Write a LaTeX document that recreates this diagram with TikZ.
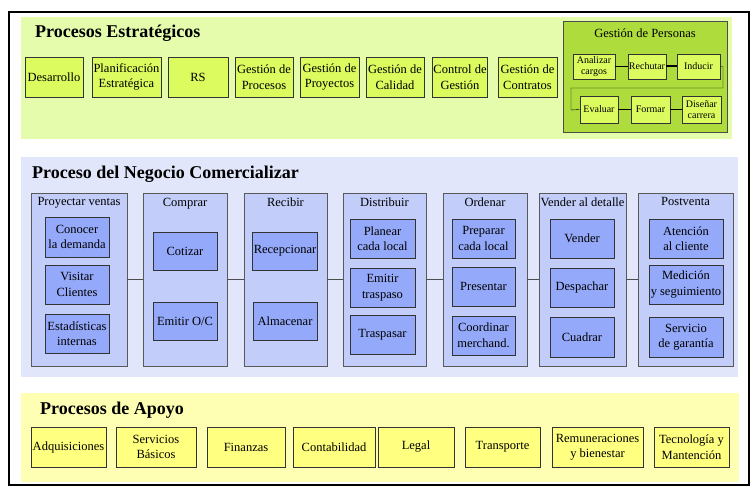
\documentclass[tikz,border=0pt]{standalone}
\usepackage{fontspec}
\setmainfont{Liberation Serif}
\usetikzlibrary{positioning}

\definecolor{estrafondo}{HTML}{E4FCAC}
\definecolor{estracaja}{HTML}{DCFB5E}
\definecolor{personas}{HTML}{AEDC3C}
\definecolor{negfondo}{HTML}{E1E6FB}
\definecolor{negcol}{HTML}{C3CDFA}
\definecolor{negcaja}{HTML}{94A9F9}
\definecolor{apofondo}{HTML}{FFFFB3}
\definecolor{apocaja}{HTML}{FFFF80}

\begin{document}
\begin{tikzpicture}[x=1pt,y=-1pt,
  caja/.style={draw=black!80,line width=0.8pt,align=center,inner sep=1pt,
    font=\fontsize{12.5}{15.5}\selectfont},
  cajita/.style={caja,fill=estracaja,font=\fontsize{10}{11}\selectfont},
  columna/.style={draw=black!65,line width=0.8pt,fill=negcol,minimum height=173},
  coltit/.style={inner sep=0pt,font=\fontsize{12.5}{14}\selectfont},
  titulo/.style={anchor=west,inner sep=0pt,font=\fontsize{18}{20}\selectfont\bfseries}]
\useasboundingbox (0,0) rectangle (756,494);

% marco y fondos
\draw[line width=1.2pt] (9,12) rectangle (749,485);
\fill[estrafondo] (21,17) rectangle (732,139);
\fill[negfondo] (21,157) rectangle (738,377);
\fill[apofondo] (21,393) rectangle (739,482);

% procesos estrategicos
\node[titulo] (tEstra) at (35,33) {Procesos Estratégicos};
\node[caja,fill=estracaja,minimum width=58,minimum height=40] (des) at (54,77) {Desarrollo};
\node[caja,fill=estracaja,minimum width=69,minimum height=40] (plan) at (126.5,77) {Planificación\\Estratégica};
\node[caja,fill=estracaja,minimum width=60,minimum height=40] (rs) at (198,77) {RS};
\node[caja,fill=estracaja,minimum width=58,minimum height=40] (gpro) at (264,77) {Gestión de\\Procesos};
\node[caja,fill=estracaja,minimum width=59,minimum height=40] (gproy) at (329.5,77) {Gestión de\\Proyectos};
\node[caja,fill=estracaja,minimum width=58,minimum height=40] (gcal) at (395,77) {Gestión de\\Calidad};
\node[caja,fill=estracaja,minimum width=54,minimum height=40] (cges) at (460,77) {Control de\\Gestión};
\node[caja,fill=estracaja,minimum width=59,minimum height=40] (gcon) at (527.5,77) {Gestión de\\Contratos};

% gestion de personas
\node[draw=black!70,line width=0.8pt,fill=personas,minimum width=164,minimum height=111] (gper) at (645,76.5) {};
\node[coltit] (tPer) at (645,33) {Gestión de Personas};
\node[cajita,minimum width=42,minimum height=25] (anal) at (594,66.5) {Analizar\\cargos};
\node[cajita,minimum width=38,minimum height=25] (rech) at (647,66.5) {Rechutar};
\node[cajita,minimum width=43,minimum height=25] (ind) at (698.5,66.5) {Inducir};
\node[cajita,minimum width=38,minimum height=27] (eva) at (599,109.5) {Evaluar};
\node[cajita,minimum width=39,minimum height=27] (form) at (650.5,109.5) {Formar};
\node[cajita,minimum width=39,minimum height=27] (dise) at (701.5,109.5) {Diseñar\\carrera};
\coordinate (codoA) at (723,88);
\coordinate (codoB) at (571,110);
\draw (anal) -- (rech);
\draw[line width=2pt] (rech) -- (ind);
\draw (ind.east) -| (codoA) -| (codoB) -- (eva.west);
\draw (eva) -- (form);
\draw (form) -- (dise);

% proceso del negocio
\node[titulo] (tNeg) at (32,174) {Proceso del Negocio Comercializar};
\node[columna,minimum width=96] (pv) at (79,279.5) {};
\node[columna,minimum width=84] (com) at (185,279.5) {};
\node[columna,minimum width=83] (rec) at (285.5,279.5) {};
\node[columna,minimum width=83] (dis) at (384.5,279.5) {};
\node[columna,minimum width=84] (ord) at (485,279.5) {};
\node[columna,minimum width=87] (ven) at (582.5,279.5) {};
\node[columna,minimum width=95] (post) at (685.5,279.5) {};
\node[coltit,below=5pt of pv.north] (tPv) {Proyectar ventas};
\node[coltit,below=5pt of com.north] (tCom) {Comprar};
\node[coltit,below=5pt of rec.north] (tRec) {Recibir};
\node[coltit,below=5pt of dis.north] (tDis) {Distribuir};
\node[coltit,below=5pt of ord.north] (tOrd) {Ordenar};
\node[coltit,below=5pt of ven.north] (tVen) {Vender al detalle};
\node[coltit,below=5pt of post.north] (tPost) {Postventa};
\draw[black!70] (pv) -- (com);
\draw[black!70] (com) -- (rec);
\draw[black!70] (rec) -- (dis);
\draw[black!70] (dis) -- (ord);
\draw[black!70] (ord) -- (ven);
\draw[black!70] (ven) -- (post);

\node[caja,fill=negcaja,minimum width=64,minimum height=40] (conoc) at (77,237) {Conocer\\la demanda};
\node[caja,fill=negcaja,minimum width=64,minimum height=39] (visit) at (77,284.5) {Visitar\\Clientes};
\node[caja,fill=negcaja,minimum width=64,minimum height=39] (estad) at (77,333.5) {Estadísticas\\internas};
\node[caja,fill=negcaja,minimum width=64,minimum height=38] (cotiz) at (185,251) {Cotizar};
\node[caja,fill=negcaja,minimum width=64,minimum height=38] (emioc) at (185,321) {Emitir O/C};
\node[caja,fill=negcaja,minimum width=64,minimum height=38] (recep) at (285,251) {Recepcionar};
\node[caja,fill=negcaja,minimum width=64,minimum height=38] (almac) at (285,321) {Almacenar};
\node[caja,fill=negcaja,minimum width=65,minimum height=39] (plane) at (382.5,238.5) {Planear\\cada local};
\node[caja,fill=negcaja,minimum width=65,minimum height=39] (emitr) at (382.5,287.5) {Emitir\\traspaso};
\node[caja,fill=negcaja,minimum width=65,minimum height=39] (trasp) at (382.5,334.5) {Traspasar};
\node[caja,fill=negcaja,minimum width=63,minimum height=39] (prepa) at (483.5,238.5) {Preparar\\cada local};
\node[caja,fill=negcaja,minimum width=63,minimum height=39] (prese) at (483.5,286.5) {Presentar};
\node[caja,fill=negcaja,minimum width=63,minimum height=39] (coord) at (483.5,335.5) {Coordinar\\merchand.};
\node[caja,fill=negcaja,minimum width=64,minimum height=39] (vende) at (582,238.5) {Vender};
\node[caja,fill=negcaja,minimum width=64,minimum height=39] (despa) at (582,287.5) {Despachar};
\node[caja,fill=negcaja,minimum width=64,minimum height=40] (cuadr) at (582,337) {Cuadrar};
\node[caja,fill=negcaja,minimum width=74,minimum height=39] (atenc) at (686,238.5) {Atención\\al cliente};
\node[caja,fill=negcaja,minimum width=74,minimum height=39] (medic) at (686,284.5) {Medición\\y seguimiento};
\node[caja,fill=negcaja,minimum width=74,minimum height=40] (servi) at (686,337) {Servicio\\de garantía};

% procesos de apoyo
\node[titulo] (tApo) at (40,410) {Procesos de Apoyo};
\node[caja,fill=apocaja,minimum width=75,minimum height=40] (adq) at (68.5,447) {Adquisiciones};
\node[caja,fill=apocaja,minimum width=80,minimum height=40] (serv) at (156,447) {Servicios\\Básicos};
\node[caja,fill=apocaja,minimum width=78,minimum height=40] (fin) at (246,447) {Finanzas};
\node[caja,fill=apocaja,minimum width=82,minimum height=40] (cont) at (334,447) {Contabilidad};
\node[caja,fill=apocaja,minimum width=76,minimum height=40] (leg) at (416,447) {Legal};
\node[caja,fill=apocaja,minimum width=75,minimum height=40] (trans) at (502.5,447) {Transporte};
\node[caja,fill=apocaja,minimum width=91,minimum height=40] (rem) at (597.5,447) {Remuneraciones\\y bienestar};
\node[caja,fill=apocaja,minimum width=75,minimum height=40] (tec) at (691.5,447) {Tecnología y\\Mantención};
\end{tikzpicture}
\end{document}
